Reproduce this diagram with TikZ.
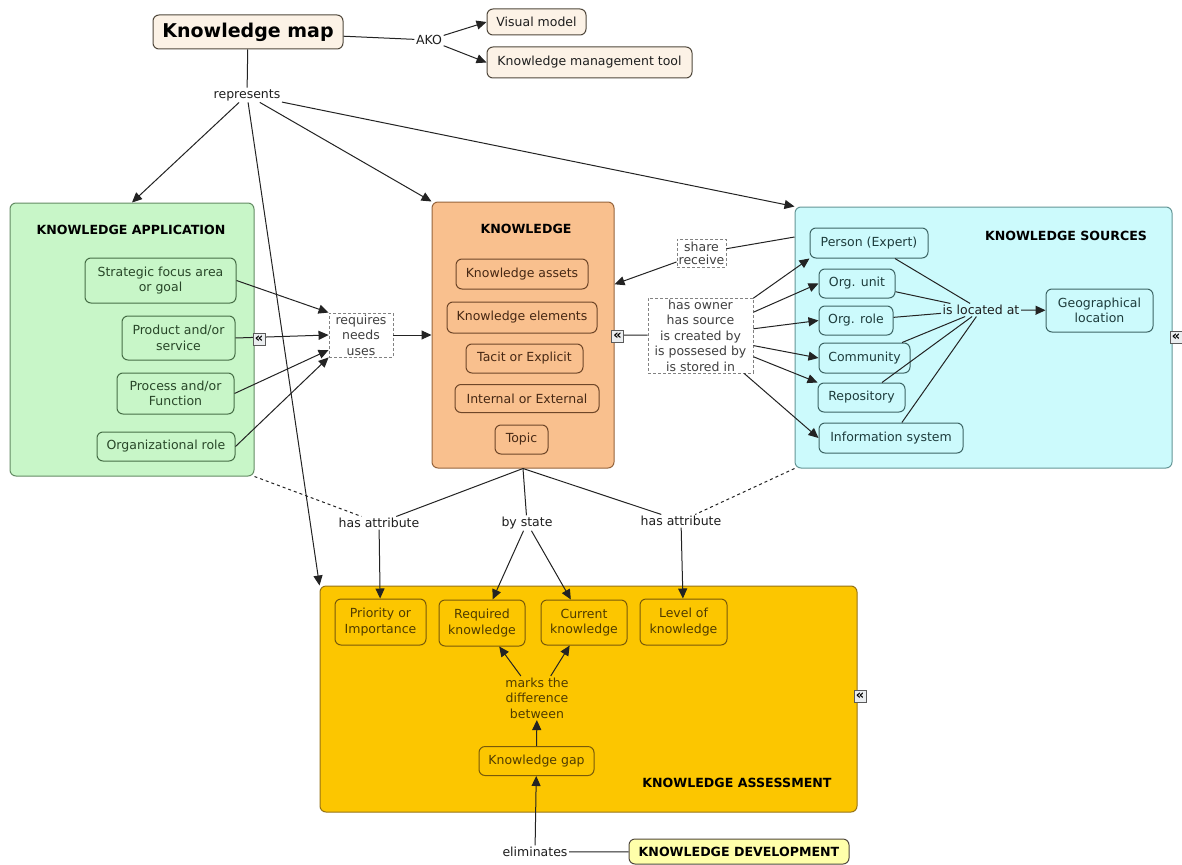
\documentclass[tikz,border=0pt]{standalone}
\usepackage{fontspec}
\setmainfont{DejaVu Sans}
\usetikzlibrary{arrows.meta}
\definecolor{kmfill}{RGB}{252,242,230}
\definecolor{kmbord}{RGB}{80,72,60}
\definecolor{kafill}{RGB}{200,246,200}
\definecolor{kabord}{RGB}{100,140,100}
\definecolor{kaitem}{RGB}{70,110,70}
\definecolor{katext}{RGB}{40,70,40}
\definecolor{knfill}{RGB}{249,192,142}
\definecolor{knbord}{RGB}{150,100,60}
\definecolor{knitem}{RGB}{110,70,40}
\definecolor{kntext}{RGB}{70,40,20}
\definecolor{ksfill}{RGB}{204,250,252}
\definecolor{ksbord}{RGB}{100,150,150}
\definecolor{ksitem}{RGB}{60,100,100}
\definecolor{kstext}{RGB}{30,60,60}
\definecolor{asfill}{RGB}{252,198,0}
\definecolor{asbord}{RGB}{150,115,20}
\definecolor{asitem}{RGB}{120,90,10}
\definecolor{astext}{RGB}{80,60,0}
\definecolor{kdfill}{RGB}{255,255,170}
\definecolor{linec}{RGB}{35,35,35}
\definecolor{txt}{RGB}{30,30,30}
\definecolor{dashc}{RGB}{130,130,130}
\definecolor{iconfill}{RGB}{235,238,240}
\definecolor{iconbord}{RGB}{90,90,90}
\begin{document}
\begin{tikzpicture}[x=1pt,y=-1pt,
  base/.style={font=\fontsize{12.5}{15.5}\selectfont, align=center, inner sep=0pt},
  cont/.style={draw, rounded corners=6pt, line width=1pt, inner sep=0pt},
  titlelab/.style={font=\bfseries\fontsize{12.6}{15}\selectfont, text=black, inner sep=0pt},
  kmbox/.style={base, draw=kmbord, fill=kmfill, rounded corners=6pt, line width=1pt, text=txt},
  kabox/.style={base, draw=kaitem, fill=kafill, rounded corners=6pt, line width=1pt, text=katext},
  knbox/.style={base, draw=knitem, fill=knfill, rounded corners=6pt, line width=1pt, text=kntext},
  ksbox/.style={base, draw=ksitem, fill=ksfill, rounded corners=6pt, line width=1pt, text=kstext},
  asbox/.style={base, draw=asitem, fill=asfill, rounded corners=6pt, line width=1pt, text=astext},
  lab/.style={base, fill=white, inner sep=1.5pt, text=txt},
  dbox/.style={base, draw=dashc, dash pattern=on 3pt off 2pt, fill=white, text=txt!85!white, line width=0.9pt},
  conn/.style={draw=linec, line width=1pt},
  arr/.style={conn, -{Triangle[length=10pt,width=9pt]}},
  icon/.style={draw=iconbord, fill=iconfill, line width=0.8pt, minimum width=12pt, minimum height=12pt, inner sep=0pt, font=\bfseries\fontsize{13}{13}\selectfont, text=black}
]
\useasboundingbox[fill=white] (0,0) rectangle (1182,864);

% containers
\node[cont, fill=kafill, draw=kabord, minimum width=244pt, minimum height=273pt] (ka) at (132,339.5) {};
\node[cont, fill=knfill, draw=knbord, minimum width=182pt, minimum height=266pt] (kn) at (523,335) {};
\node[cont, fill=ksfill, draw=ksbord, minimum width=377pt, minimum height=261pt] (ks) at (983.5,337.5) {};
\node[cont, fill=asfill, draw=asbord, minimum width=537pt, minimum height=226pt] (as) at (588.5,699) {};

\node[titlelab] (kaT) at (131,230) {KNOWLEDGE APPLICATION};
\node[titlelab] (knT) at (526,229) {KNOWLEDGE};
\node[titlelab] (ksT) at (1066,236) {KNOWLEDGE SOURCES};
\node[titlelab] (asT) at (737,783) {KNOWLEDGE ASSESSMENT};

% top
\node[kmbox, minimum width=190pt, minimum height=34pt, font=\bfseries\fontsize{19}{22}\selectfont, text=black] (km) at (248,32) {Knowledge map};
\node[kmbox, minimum width=99pt, minimum height=26pt] (vm) at (536.5,22) {Visual model};
\node[kmbox, minimum width=205pt, minimum height=31pt] (kmt) at (589.5,62.5) {Knowledge management tool};
\node[lab] (ako) at (429,40) {AKO};
\node[lab] (rep) at (247,95) {represents};

% knowledge application
\node[kabox, minimum width=151pt, minimum height=45pt] (sfa) at (160.5,280.5) {Strategic focus area\\or goal};
\node[kabox, minimum width=113pt, minimum height=44pt] (pas) at (178.5,338) {Product and/or\\service};
\node[kabox, minimum width=117pt, minimum height=41pt] (paf) at (175.5,393.5) {Process and/or\\Function};
\node[kabox, minimum width=138pt, minimum height=29pt] (orl) at (166,446.5) {Organizational role};
\node[dbox, minimum width=64pt, minimum height=44pt] (req) at (361,335) {requires\\needs\\uses};

% knowledge
\node[knbox, minimum width=132pt, minimum height=30pt] (kas) at (522,274) {Knowledge assets};
\node[knbox, minimum width=150pt, minimum height=31pt] (kel) at (522,317.5) {Knowledge elements};
\node[knbox, minimum width=117pt, minimum height=29pt] (tac) at (524.5,358.5) {Tacit or Explicit};
\node[knbox, minimum width=144pt, minimum height=28pt] (ioe) at (527,398.5) {Internal or External};
\node[knbox, minimum width=53pt, minimum height=29pt] (top) at (521.5,439.5) {Topic};

\node[dbox, minimum width=49pt, minimum height=28pt, font=\fontsize{12.5}{13}\selectfont] (shr) at (701.5,253) {share\\receive};
\node[dbox, minimum width=105pt, minimum height=75pt] (own) at (700.5,335.5) {has owner\\has source\\is created by\\is possesed by\\is stored in};

% knowledge sources
\node[ksbox, minimum width=118pt, minimum height=30pt] (per) at (869,243) {Person (Expert)};
\node[ksbox, minimum width=76pt, minimum height=29pt] (oun) at (857,283.5) {Org. unit};
\node[ksbox, minimum width=74pt, minimum height=29pt] (orr) at (856,320.5) {Org. role};
\node[ksbox, minimum width=91pt, minimum height=30pt] (com) at (864.5,358) {Community};
\node[ksbox, minimum width=87pt, minimum height=29pt] (rpo) at (861.5,397.5) {Repository};
\node[ksbox, minimum width=144pt, minimum height=30pt] (ins) at (891,438) {Information system};
\node[lab, fill=ksfill] (loc) at (981,310) {is located at};
\node[ksbox, minimum width=107pt, minimum height=43pt] (geo) at (1099.5,310.5) {Geographical\\location};

% assessment
\node[lab] (ha1) at (379,523) {has attribute};
\node[lab] (bys) at (527,523) {by state};
\node[lab] (ha2) at (681,521) {has attribute};
\node[asbox, minimum width=91pt, minimum height=46pt] (pri) at (380.5,622) {Priority or\\Importance};
\node[asbox, minimum width=86pt, minimum height=46pt] (rqk) at (482,623) {Required\\knowledge};
\node[asbox, minimum width=86pt, minimum height=45pt] (cuk) at (584,622.5) {Current\\knowledge};
\node[asbox, minimum width=87pt, minimum height=46pt] (lvk) at (683.5,622) {Level of\\knowledge};
\node[lab, fill=asfill, text=astext] (mk) at (537,698) {marks the\\difference\\between};
\node[asbox, minimum width=115pt, minimum height=29pt] (kg) at (536.5,761) {Knowledge gap};
\node[lab] (elim) at (535,852) {eliminates};
\node[kmbox, fill=kdfill, minimum width=220pt, minimum height=25pt, font=\bfseries\fontsize{12.6}{15}\selectfont, text=black] (kd) at (739,851.5) {KNOWLEDGE DEVELOPMENT};

% connectors
\draw[conn] (km) -- (ako);
\draw[arr] (ako) -- (vm.west);
\draw[arr] (ako) -- (kmt.west);
\draw[conn] (km) -- (rep);
\draw[arr] (rep) -- (ka.north);
\draw[arr] (rep) -- (kn.north west);
\draw[arr] (rep) -- (ks.north west);
\draw[arr] (rep) -- (as.north west);

\draw[arr] (sfa.east) -- (req.north west);
\draw[arr] (pas.east) -- (req.west);
\draw[arr] (paf.east) -- ([yshift=-15pt]req.west);
\draw[arr] (orl.east) -- (req.south west);
\draw[arr] (req) -- (kn);

\draw[conn] (ks.152) -- (shr);
\draw[arr] (shr) -- (kn.29);
\draw[conn] (kn.east) -- (own);
\draw[arr] (own) -- (per.south west);
\draw[arr] (own) -- (oun.west);
\draw[arr] (own) -- (orr.west);
\draw[arr] (own) -- (com.west);
\draw[arr] (own) -- (rpo.north west);
\draw[arr] (own) -- (ins.west);
\foreach \n in {per,oun,orr,com,rpo,ins} \draw[conn] (\n) -- (loc);
\draw[arr] (loc) -- (geo);

\draw[conn] (kn.south) -- (ha1);
\draw[conn] (kn.south) -- (bys);
\draw[conn] (kn.south) -- (ha2);
\draw[conn, dashed] (ka.south east) -- (ha1);
\draw[conn, dashed] (ks.south west) -- (ha2);
\draw[arr] (ha1) -- (pri);
\draw[arr] (bys) -- (rqk);
\draw[arr] (bys) -- (cuk);
\draw[arr] (ha2) -- (lvk);
\draw[arr] (kg) -- (mk);
\draw[arr] (mk) -- (rqk);
\draw[arr] (mk) -- (cuk);
\draw[arr] (elim) -- (kg);
\draw[conn] (kd) -- (elim);

% collapse icons
\node[icon] (ic1) at (259,339) {«};
\node[icon] (ic2) at (617.5,336) {«};
\node[icon] (ic3) at (1176,337) {«};
\node[icon] (ic4) at (860,696) {«};
\end{tikzpicture}
\end{document}
